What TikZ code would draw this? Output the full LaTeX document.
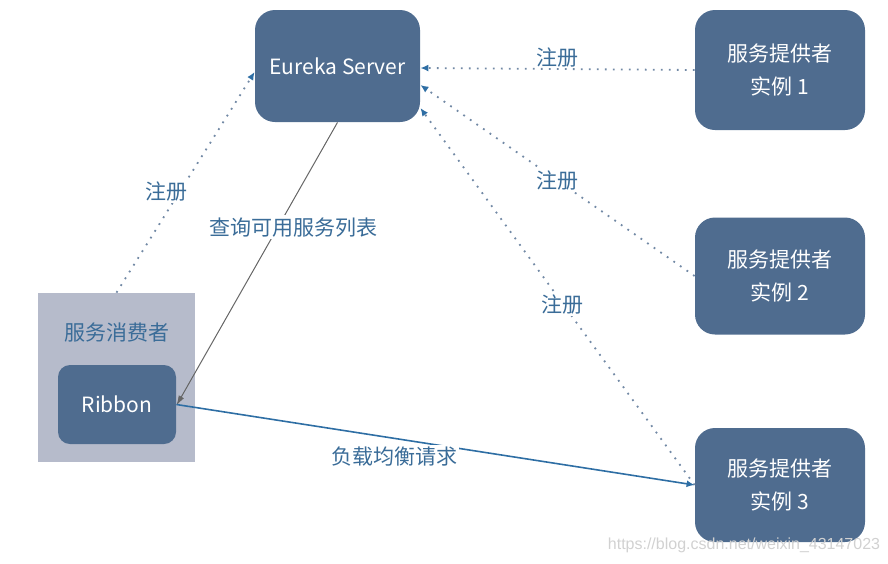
\documentclass[tikz,border=0pt]{standalone}
\usepackage{fontspec}
\setmainfont{Noto Sans CJK SC}
\newfontfamily\wmfont{Liberation Sans}
\usepackage{xcolor}
\usetikzlibrary{arrows.meta}

\definecolor{boxblue}{RGB}{79,108,143}
\definecolor{consumerbg}{RGB}{182,187,203}
\definecolor{labelblue}{RGB}{58,108,152}
\definecolor{arrowblue}{RGB}{46,110,164}

\begin{document}
\begin{tikzpicture}[x=0.5pt, y=-0.5pt,
    every node/.style={font=\fontsize{10.5pt}{16.5pt}\selectfont},
    box/.style={fill=boxblue, draw=none, rounded corners=10pt, text=white, align=center},
    lbl/.style={text=labelblue, fill=white, inner sep=1pt},
    regline/.style={draw=boxblue!80, dash pattern=on 0.9pt off 3.1pt, line width=0.9pt,
      -{Latex[length=4pt, width=3.5pt, color=arrowblue]}}]
    \useasboundingbox (0,0) rectangle (888,563);

    % Eureka server
    \node[box, minimum width=82.5pt, minimum height=56pt] (server) at (337.5,66) {Eureka Server};

    % Providers
    \node[box, minimum width=85pt, minimum height=60pt] (prov1) at (780,70) {服务提供者\\实例 1};
    \node[box, minimum width=85pt, minimum height=58.5pt] (prov2) at (780,276) {服务提供者\\实例 2};
    \node[box, minimum width=85pt, minimum height=57pt] (prov3) at (780,485) {服务提供者\\实例 3};

    % Consumer with Ribbon
    \node[fill=consumerbg, minimum width=78.5pt, minimum height=84.5pt] (consumer) at (116.5,377.5) {};
    \node[text=labelblue] (consumertxt) at (116.5,333) {服务消费者};
    \node[box, rounded corners=6pt, minimum width=59pt, minimum height=39.5pt] (ribbon) at (117,404.5) {Ribbon};

    % Registrations
    \draw[regline] (prov1.west) -- node[midway, above=-3pt, text=labelblue] {注册} ([yshift=-1pt]server.east);
    \draw[regline] (prov2.west) -- node[lbl, pos=0.5] {注册} ([yshift=-9.5pt]server.east);
    \draw[regline] (prov3.west) -- node[lbl, pos=0.48] {注册} ([yshift=-21pt]server.east);
    \draw[regline] (consumer.north) -- node[lbl, pos=0.46, xshift=-7pt] {注册} ([yshift=-3pt]server.west);

    % Query and requests
    \draw[draw=black!60, line width=0.5pt, -{Latex[length=5pt, width=3pt]}]
    (server.south) -- node[lbl, pos=0.37, xshift=8pt] {查询可用服务列表} ([yshift=-0.5pt]ribbon.east);
    \draw[draw=arrowblue, line width=0.8pt, -{Latex[length=4pt, width=3.5pt]}]
    (ribbon.east) -- node[lbl, pos=0.42, yshift=-9pt] {负载均衡请求} (prov3.west);

    % Watermark
    \node[text=black!18, font=\wmfont\fontsize{8pt}{9pt}\selectfont] (mark) at (744,545) {https://blog.csdn.net/weixin\_43147023};
\end{tikzpicture}
\end{document}
